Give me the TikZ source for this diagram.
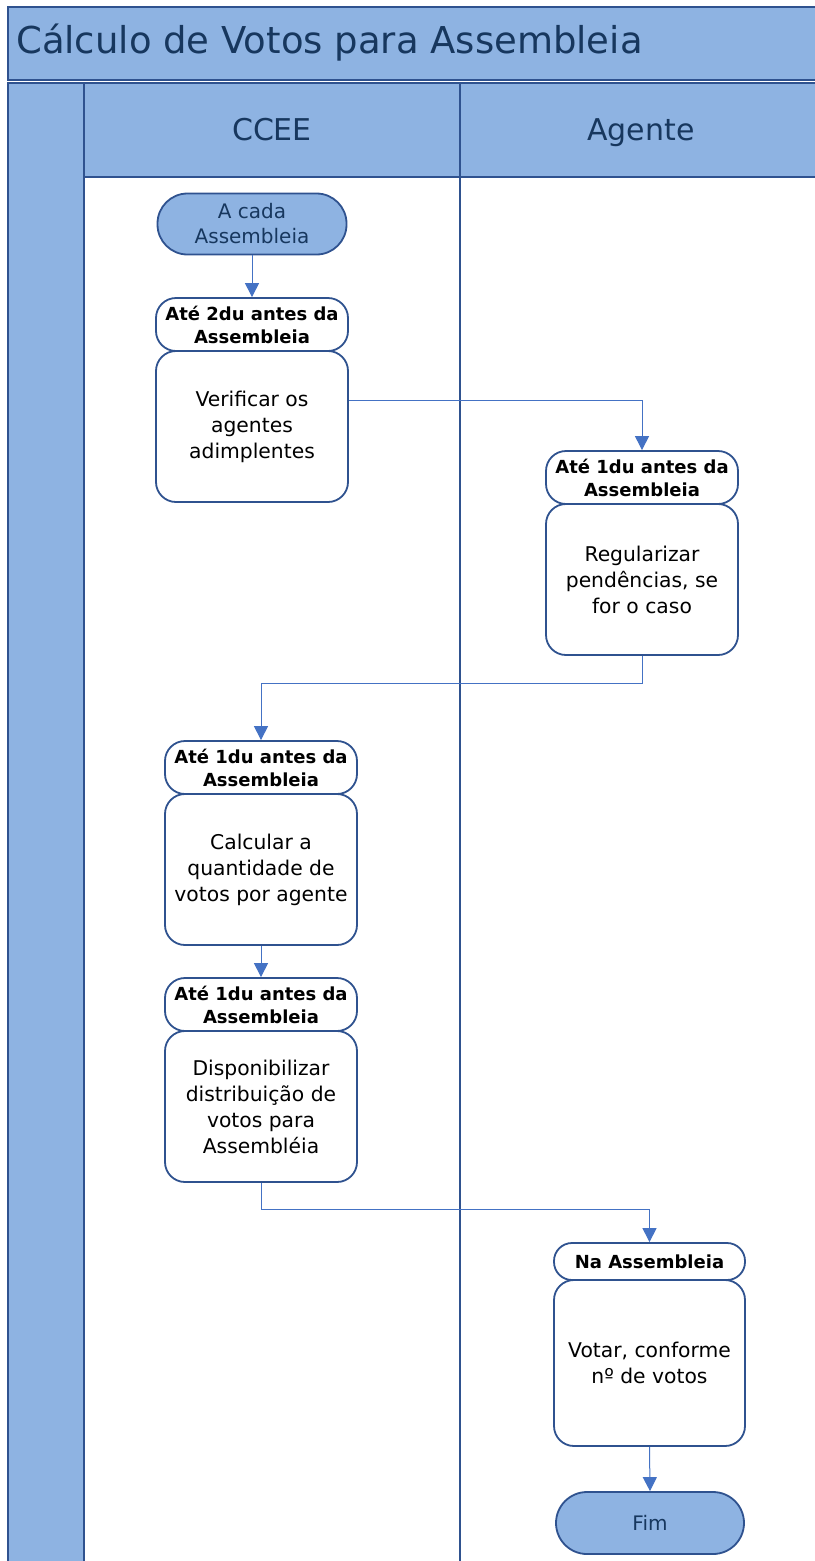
\documentclass[tikz,border=0pt]{standalone}
\usepackage{fontspec}
\setmainfont{DejaVu Sans}
\usetikzlibrary{arrows.meta,calc}
\definecolor{laneblue}{RGB}{142,179,226}
\definecolor{edgeblue}{RGB}{47,82,143}
\definecolor{linkblue}{RGB}{68,114,196}
\definecolor{navy}{RGB}{23,55,94}
\begin{document}
\begin{tikzpicture}[x=1pt,y=-1pt,
  band/.style={fill=laneblue,draw=edgeblue,line width=1.4pt},
  divider/.style={draw=edgeblue,line width=1.2pt},
  lanelabel/.style={text=navy,inner sep=0pt,anchor=base,font=\fontsize{30}{36}\selectfont},
  termbox/.style={draw=edgeblue,line width=1.8pt,fill=laneblue,rounded corners=30pt,
    minimum width=189pt,minimum height=61pt,inner sep=0pt,align=center,text=navy,
    font=\fontsize{20}{25}\selectfont},
  hdrbox/.style={draw=edgeblue,line width=1.8pt,fill=white,rounded corners=20pt,
    minimum width=192pt,minimum height=53pt,inner sep=0pt,align=center,
    font=\fontsize{18}{23}\selectfont\bfseries},
  bodybox/.style={draw=edgeblue,line width=1.8pt,fill=white,rounded corners=20pt,
    minimum width=192pt,minimum height=151pt,inner sep=0pt,align=center,
    font=\fontsize{20.3}{26}\selectfont},
  conn/.style={draw=linkblue,line width=1pt,-{Triangle[length=14pt,width=14pt]}},
  link/.style={draw=linkblue,line width=1pt}
]
\useasboundingbox (0,0) rectangle (814,1561);
% title band
\path[band] (8,7) rectangle (816,80);
\node[anchor=west,text=navy,inner sep=0pt,font=\fontsize{37}{44}\selectfont] (title) at (16,43) {Cálculo de Votos para Assembleia};
% left column and lane headers
\path[band] (8,83) rectangle (84,1565);
\path[band] (84,83) rectangle (816,177);
\path[fill=white] (85,178) rectangle (816,1565);
\draw[divider] (84,177) -- (84,1565);
\draw[divider] (460,83) -- (460,1565);
\draw[divider] (84,177) -- (816,177);
\node[lanelabel] (ccee) at (272,140) {CCEE};
\node[lanelabel] (agente) at (641,140) {Agente};
% nodes
\node[termbox] (start) at (252,224) {A cada\\Assembleia};
\node[hdrbox] (hdr1) at (252,324.5) {Até 2du antes da\\Assembleia};
\node[bodybox] (body1) at (252,426.5) {Verificar os\\agentes\\adimplentes};
\node[hdrbox] (hdr2) at (642,477.5) {Até 1du antes da\\Assembleia};
\node[bodybox] (body2) at (642,579.5) {Regularizar\\pendências, se\\for o caso};
\node[hdrbox] (hdr3) at (261,767.5) {Até 1du antes da\\Assembleia};
\node[bodybox] (body3) at (261,869.5) {Calcular a\\quantidade de\\votos por agente};
\node[hdrbox] (hdr4) at (261,1004.5) {Até 1du antes da\\Assembleia};
\node[bodybox] (body4) at (261,1106.5) {Disponibilizar\\distribuição de\\votos para\\Assembléia};
\node[hdrbox,minimum width=191pt,minimum height=37pt,rounded corners=18pt] (hdr5) at (649.5,1261.5) {Na Assembleia};
\node[bodybox,minimum width=191pt,minimum height=166pt] (body5) at (649.5,1363) {Votar, conforme\\nº de votos};
\node[termbox,minimum width=188pt,minimum height=62pt,rounded corners=31pt] (fim) at (650,1523) {Fim};
% connectors
\draw[conn] (start.south) -- (hdr1.north);
\draw[conn] ([yshift=26.5pt]body1.east) -| (hdr2.north);
\draw[conn] (body2.south) -- ++(0,28) -| (hdr3.north);
\draw[conn] (body3.south) -- (hdr4.north);
\draw[conn] (body4.south) -- ++(0,27) -| (hdr5.north);
\draw[conn] (body5.south) -- (fim.north);
\end{tikzpicture}
\end{document}
